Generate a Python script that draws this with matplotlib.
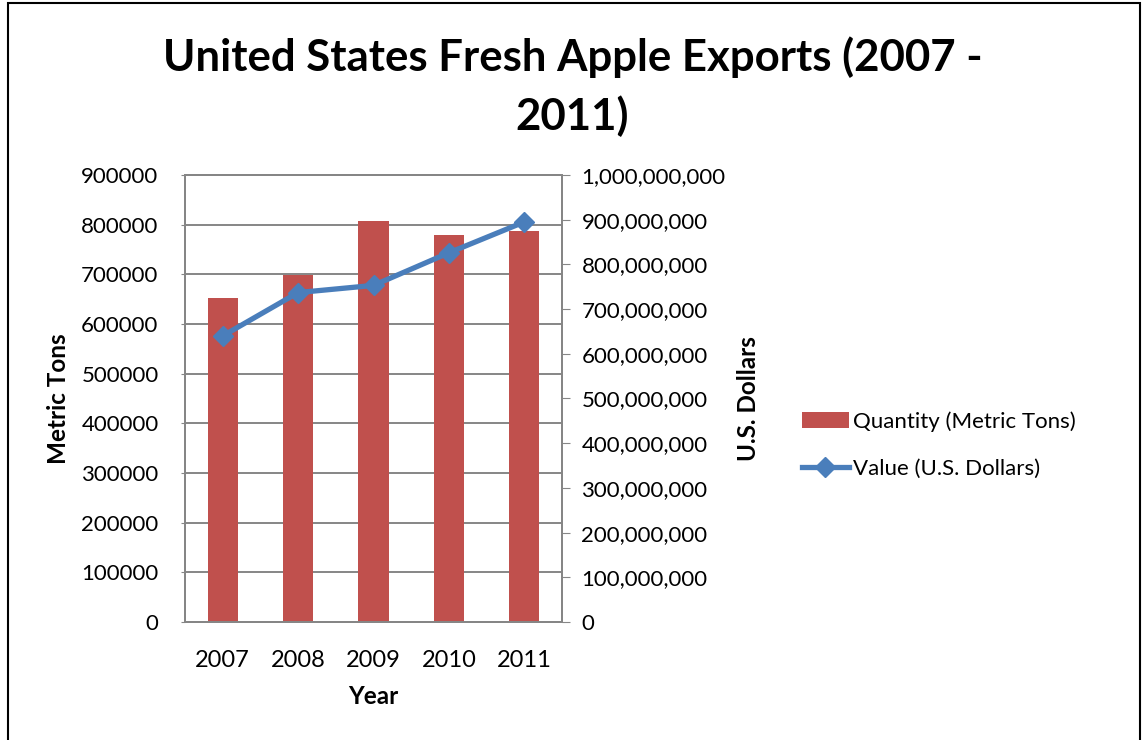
import matplotlib.pyplot as plt
from matplotlib.patches import Rectangle, Patch
from matplotlib.lines import Line2D
from matplotlib.ticker import FuncFormatter
import numpy as np

years = ['2007', '2008', '2009', '2010', '2011']
quantity = [653000, 699000, 807000, 779000, 788000]
value = [640000000, 737000000, 753000000, 826000000, 895000000]

bar_color = '#C0504D'
line_color = '#4A7EBB'
grid_color = '#868686'
plt.rcParams['font.family'] = ['Lato', 'DejaVu Sans']

fig = plt.figure(figsize=(11.45, 7.4), dpi=100)
ax = fig.add_axes([185 / 1145, 1 - 622 / 740, 377 / 1145, 447 / 740])
x = np.arange(len(years))
ax.bar(x, quantity, width=0.4, color=bar_color, zorder=2)
ax.set_xlim(-0.5, 4.5)
ax.set_ylim(0, 900000)
ax.set_yticks(np.arange(0, 900001, 100000))
ax.yaxis.grid(True, color=grid_color, linewidth=1.4, zorder=0)
ax.set_xticks(x)
ax.set_xticklabels(years)
ax.tick_params(axis='x', length=0, labelsize=17, pad=20)
ax.tick_params(axis='y', length=3, color=grid_color, labelsize=16, pad=16)
for s in ax.spines.values():
    s.set_color(grid_color)
    s.set_linewidth(1.4)
ax.set_ylabel('Metric Tons', fontsize=17.5, fontweight='bold', labelpad=8)
ax.set_xlabel('Year', fontsize=17.5, fontweight='bold', labelpad=10)

ax2 = ax.twinx()
ax2.plot(x, value, color=line_color, linewidth=3.8, marker='D', markersize=10, zorder=3)
ax2.set_ylim(0, 1000000000)
ax2.set_yticks(np.arange(0, 1000000001, 100000000))
ax2.yaxis.set_major_formatter(FuncFormatter(lambda v, p: f'{int(v):,}'))
ax2.tick_params(axis='y', length=6, color=grid_color, labelsize=16, pad=8)
for s in ax2.spines.values():
    s.set_color(grid_color)
    s.set_linewidth(1.4)
ax2.set_ylabel('U.S. Dollars', fontsize=17.5, fontweight='bold', labelpad=8)

fig.text(0.5, 1 - 57 / 740, 'United States Fresh Apple Exports (2007 -', ha='center', va='center',
         fontsize=31.5, fontweight='bold')
fig.text(0.5, 1 - 116 / 740, '2011)', ha='center', va='center', fontsize=31.5, fontweight='bold')

handles = [Patch(facecolor=bar_color, edgecolor='none'),
           Line2D([], [], color=line_color, linewidth=3.8, marker='D', markersize=10)]
fig.legend(handles, ['Quantity (Metric Tons)', 'Value (U.S. Dollars)'],
           loc='center left', bbox_to_anchor=(782 / 1145, 1 - 445 / 740), frameon=False,
           fontsize=16, handlelength=2.1, handletextpad=0.2, labelspacing=1.2)

fig.patches.append(Rectangle((8 / 1145, -0.05), 1132 / 1145, 1.05 - 3 / 740, transform=fig.transFigure,
                             fill=False, edgecolor='black', linewidth=1.5))
fig.savefig('out.png', dpi=100)
